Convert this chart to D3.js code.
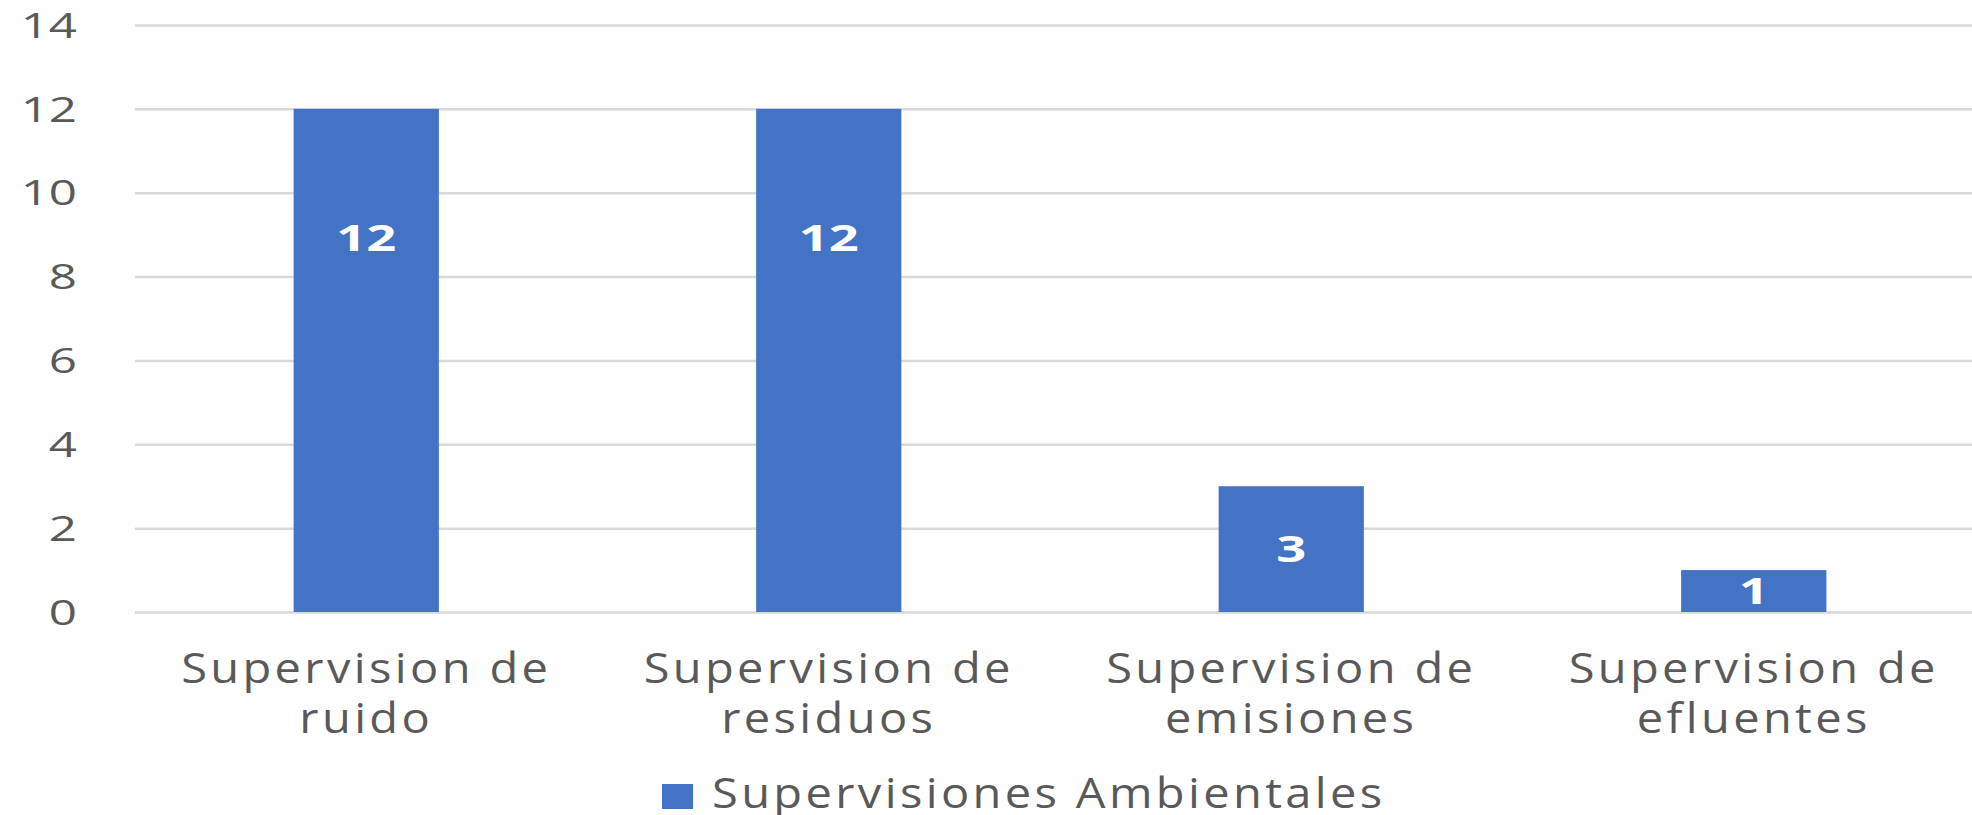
<!DOCTYPE html>
<html>
<head>
<meta charset="utf-8">
<script src="https://cdn.jsdelivr.net/npm/d3@7"></script>
<style>
  html, body { margin: 0; padding: 0; background: #ffffff; overflow: hidden; }
  svg { display: block; font-family: "Open Sans", "Noto Sans", sans-serif; }
</style>
</head>
<body>
<svg id="chart" width="1972" height="815"></svg>
<script>
// ---- data ----
const categories = [
  ["Supervision de", "ruido"],
  ["Supervision de", "residuos"],
  ["Supervision de", "emisiones"],
  ["Supervision de", "efluentes"]
];
const seriesName = "Supervisiones Ambientales";
const values = [12, 12, 3, 1];
const yTicks = [0, 2, 4, 6, 8, 10, 12, 14];

// ---- layout ----
const W = 1972, H = 815;
const plot = { left: 135, right: 1985, top: 25, bottom: 612 };
const barColor = "#4472C4";
const textColor = "#595959";
const gridColor = "#d9d9d9";

const svg = d3.select("#chart");

const keys = categories.map((c, i) => i);
const x = d3.scaleBand()
  .domain(keys)
  .range([plot.left, plot.right])
  .paddingInner(0.686)
  .paddingOuter(0.343);

const y = d3.scaleLinear()
  .domain([0, 14])
  .range([plot.bottom, plot.top]);

// gridlines + y tick labels via axis
const yAxis = d3.axisLeft(y)
  .tickValues(yTicks)
  .tickSize(-(plot.right - plot.left))
  .tickFormat(d3.format("d"));

const gy = svg.append("g")
  .attr("transform", `translate(${plot.left},0)`)
  .call(yAxis);
gy.select(".domain").remove();
gy.selectAll(".tick line")
  .attr("stroke", gridColor)
  .attr("stroke-width", 2.5);
gy.selectAll(".tick text")
  .attr("x", 0)
  .attr("dy", "0.36em")
  .attr("fill", textColor)
  .attr("font-size", 34)
  .attr("font-family", "'Open Sans', sans-serif")
  .attr("text-anchor", "end")
  .attr("transform", "translate(-58,0) scale(1.45,1)");

// bars
svg.append("g").selectAll("rect")
  .data(values)
  .join("rect")
  .attr("x", (d, i) => x(i))
  .attr("width", x.bandwidth())
  .attr("y", d => y(d))
  .attr("height", d => y(0) - y(d))
  .attr("fill", barColor);

// data labels
svg.append("g").selectAll("text")
  .data(values)
  .join("text")
  .attr("transform", (d, i) => `translate(${x(i) + x.bandwidth() / 2},${y(Math.max(d / 2, d - 3.1))}) scale(1.5,1)`)
  .attr("text-anchor", "middle")
  .attr("dy", "0.36em")
  .attr("fill", "#ffffff")
  .attr("font-weight", "bold")
  .attr("font-size", 35)
  .text(d => d);

// category labels
const cat = svg.append("g").selectAll("g")
  .data(categories)
  .join("g")
  .attr("transform", (d, i) => `translate(${x(i) + x.bandwidth() / 2},683) scale(1.12,1)`);
cat.each(function(lines) {
  const t = d3.select(this).append("text")
    .attr("text-anchor", "middle")
    .attr("fill", textColor)
    .attr("font-size", 42)
    .attr("letter-spacing", 3);
  lines.forEach((ln, j) => {
    t.append("tspan").attr("x", 0).attr("y", j * 50).text(ln);
  });
});

// legend
const legend = svg.append("g");
legend.append("rect")
  .attr("x", 662).attr("y", 784)
  .attr("width", 31).attr("height", 25)
  .attr("fill", barColor);
legend.append("text")
  .attr("transform", "translate(712,808) scale(1.12,1)")
  .attr("fill", textColor)
  .attr("font-size", 42)
  .attr("letter-spacing", 3)
  .text(seriesName);
</script>
</body>
</html>
